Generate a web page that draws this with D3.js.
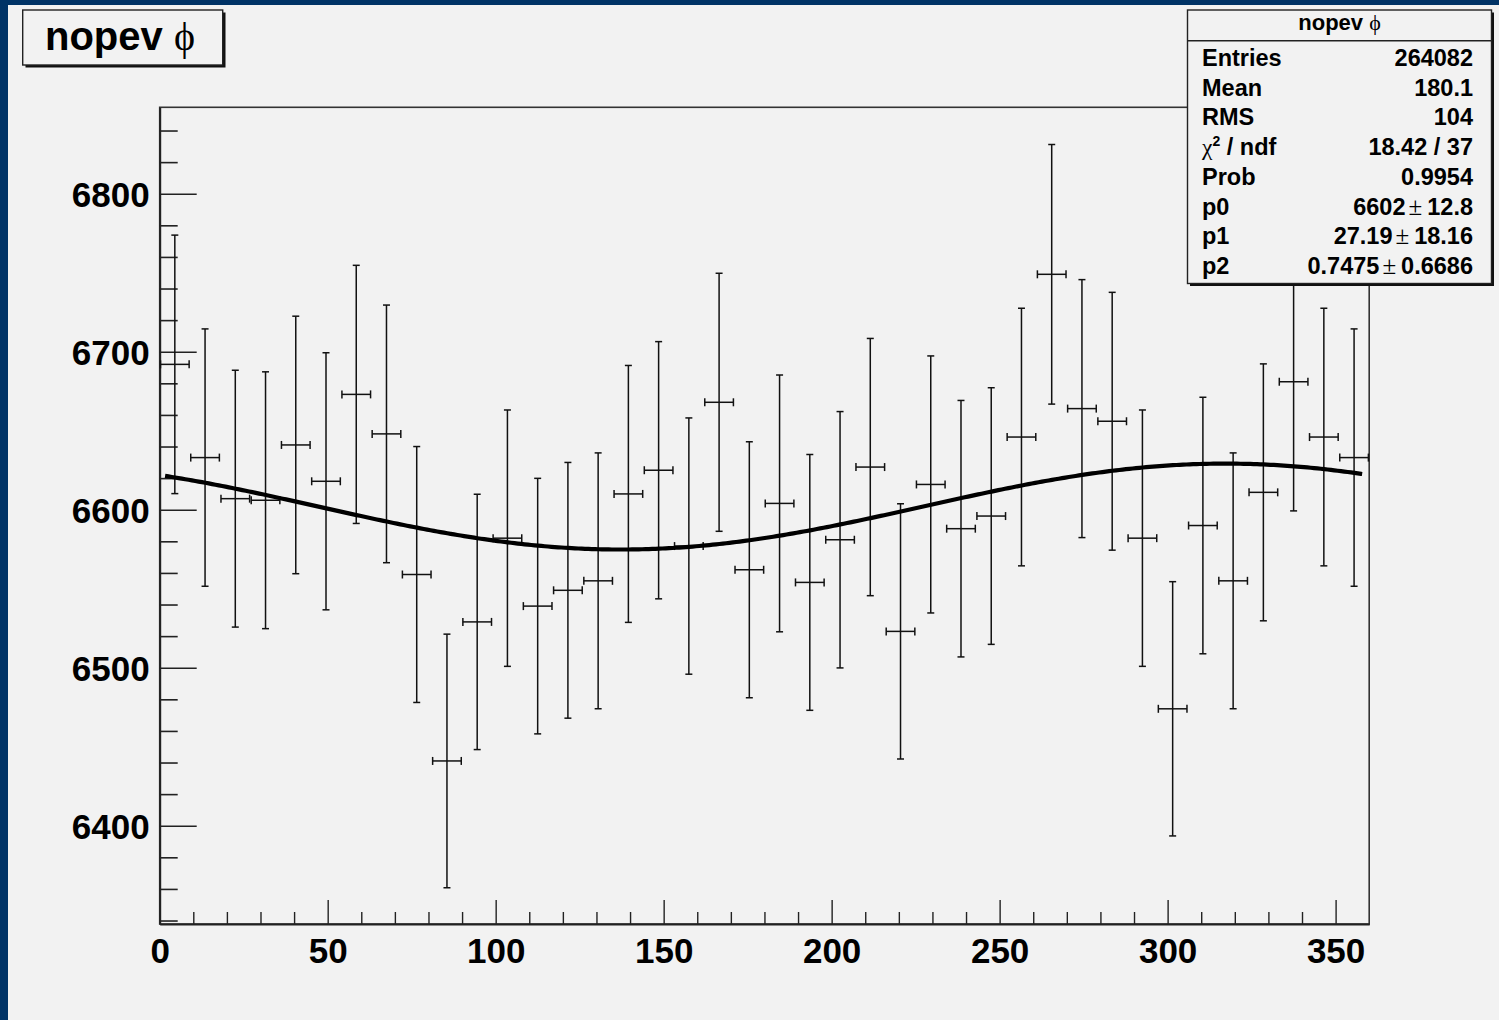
<!DOCTYPE html>
<html>
<head>
<meta charset="utf-8">
<script src="https://cdn.jsdelivr.net/npm/d3@7"></script>
<style>
  html, body { margin: 0; padding: 0; background: #003366; }
  svg { display: block; }
  text { font-family: "Liberation Sans", Arial, Helvetica, sans-serif; fill: #000; }
</style>
</head>
<body>
<svg id="chart" width="1499" height="1020"></svg>
<script>
// Histogram "nopev phi": 40 bins of 9 degrees over 0..360
const binEdgesLow = d3.range(0, 360, 9);
const binWidth = 9;
const counts = [
  6692, 6633, 6607, 6606, 6641, 6618, 6673, 6648, 6559, 6441,
  6529, 6582, 6539, 6549, 6555, 6610, 6625, 6577, 6668, 6562,
  6604, 6554, 6581, 6627, 6523, 6616, 6588, 6596, 6646, 6749,
  6664, 6656, 6582, 6474, 6590, 6555, 6611, 6681, 6646, 6633
];

// Fit: p0 + p1*cos(phi + p2), phi in radians
const fitParams = { p0: 6602, p1: 27.19, p2: 0.7475 };
const fitRange = [1.6, 357.9];

// Statistics box rows
const statLabels = ["Entries", "Mean", "RMS", "chi2", "Prob", "p0", "p1", "p2"];
const statValues = ["264082", "180.1", "104", "18.42 / 37", "0.9954",
                    ["6602", "12.8"], ["27.19", "18.16"], ["0.7475", "0.6686"]];

const xTickValues = [0, 50, 100, 150, 200, 250, 300, 350];
const yTickValues = [6400, 6500, 6600, 6700, 6800];

const svg = d3.select("#chart");
const W = 1499, H = 1020;
const bg = "#f2f2f2";

// canvas
svg.append("rect").attr("x", 8).attr("y", 5).attr("width", W - 8).attr("height", H - 5).attr("fill", bg);

const x = d3.scaleLinear().domain([0, 360]).range([159.7, 1369.2]);
const y = d3.scaleLinear().domain([6337.8, 6854.7]).range([924, 107.3]);

// frame
svg.append("rect")
  .attr("x", x(0)).attr("y", y(6854.7))
  .attr("width", x(360) - x(0)).attr("height", y(6337.8) - y(6854.7))
  .attr("fill", bg).attr("stroke", "#333").attr("stroke-width", 1.6);

const labelStyle = sel => sel.selectAll("text")
  .attr("font-size", 35).attr("font-weight", "bold").attr("fill", "#000");

// Y axis: major ticks pointing inward, with labels
const yMajor = svg.append("g").attr("transform", `translate(${x(0)},0)`)
  .call(d3.axisLeft(y).tickValues(yTickValues).tickSize(-37).tickSizeOuter(0).tickPadding(10).tickFormat(d3.format("d")));
yMajor.select(".domain").attr("stroke", "#222").attr("stroke-width", 2);
yMajor.selectAll(".tick line").attr("stroke", "#222").attr("stroke-width", 1.6);
labelStyle(yMajor);
yMajor.selectAll("text").attr("dy", "0.36em");

const yMinor = svg.append("g").attr("transform", `translate(${x(0)},0)`)
  .call(d3.axisLeft(y).tickValues(d3.range(6340, 6855, 20).filter(v => v % 100 !== 0)).tickSize(-18).tickSizeOuter(0).tickFormat(""));
yMinor.select(".domain").remove();
yMinor.selectAll(".tick line").attr("stroke", "#222").attr("stroke-width", 1.6);

// X axis
const xMajor = svg.append("g").attr("transform", `translate(0,${y(6337.8)})`)
  .call(d3.axisBottom(x).tickValues(xTickValues).tickSize(-24).tickSizeOuter(0).tickPadding(14).tickFormat(d3.format("d")));
xMajor.select(".domain").attr("stroke", "#222").attr("stroke-width", 2.2);
xMajor.selectAll(".tick line").attr("stroke", "#222").attr("stroke-width", 1.4);
labelStyle(xMajor);
xMajor.selectAll("text").attr("dy", "0.71em");

const xMinor = svg.append("g").attr("transform", `translate(0,${y(6337.8)})`)
  .call(d3.axisBottom(x).tickValues(d3.range(10, 360, 10).filter(v => v % 50 !== 0)).tickSize(-12).tickSizeOuter(0).tickFormat(""));
xMinor.select(".domain").remove();
xMinor.selectAll(".tick line").attr("stroke", "#222").attr("stroke-width", 1.4);

// error bars
const bins = counts.map((c, i) => ({ lo: binEdgesLow[i], hi: binEdgesLow[i] + binWidth, c, e: Math.sqrt(c) }));
const eb = svg.append("g").attr("stroke", "#111").attr("stroke-width", 1.5).attr("fill", "none");
bins.forEach(b => {
  const cx = x((b.lo + b.hi) / 2);
  const cy = y(b.c);
  const y0 = y(b.c - b.e), y1 = y(b.c + b.e);
  const xl = x(b.lo) + 0.8, xr = Math.min(x(b.hi), x(360)) - 0.8;
  eb.append("line").attr("x1", cx).attr("x2", cx).attr("y1", y0).attr("y2", y1);
  eb.append("line").attr("x1", cx - 3.5).attr("x2", cx + 3.5).attr("y1", y0).attr("y2", y0);
  eb.append("line").attr("x1", cx - 3.5).attr("x2", cx + 3.5).attr("y1", y1).attr("y2", y1);
  eb.append("line").attr("x1", xl).attr("x2", xr).attr("y1", cy).attr("y2", cy);
  eb.append("line").attr("x1", xl).attr("x2", xl).attr("y1", cy - 4).attr("y2", cy + 4);
  eb.append("line").attr("x1", xr).attr("x2", xr).attr("y1", cy - 4).attr("y2", cy + 4);
});

// fit curve
const fitFn = phi => fitParams.p0 + fitParams.p1 * Math.cos(phi * Math.PI / 180 + fitParams.p2);
const fitPts = d3.range(fitRange[0], fitRange[1], 1).concat([fitRange[1]]);
svg.append("path")
  .attr("d", d3.line().x(d => x(d)).y(d => y(fitFn(d)))(fitPts))
  .attr("fill", "none").attr("stroke", "#000").attr("stroke-width", 4.2)
  .attr("stroke-linejoin", "round");

// title box
svg.append("rect").attr("x", 25.5).attr("y", 12.5).attr("width", 200).attr("height", 55).attr("fill", "#111");
svg.append("rect").attr("x", 22.7).attr("y", 10).attr("width", 200).attr("height", 55)
  .attr("fill", bg).attr("stroke", "#222").attr("stroke-width", 1.4);
const title = svg.append("text").attr("x", 45).attr("y", 50).attr("font-size", 40).attr("font-weight", "bold");
title.append("tspan").text("nopev ");
title.append("tspan").attr("font-family", "'Liberation Serif', 'DejaVu Serif', serif").attr("font-weight", "normal").attr("font-size", 40).text("\u03D5");

// statistics box
const sb = { x: 1187.5, y: 10, w: 304, h: 273.5 };
svg.append("rect").attr("x", sb.x + 2.5).attr("y", sb.y + 2.5).attr("width", sb.w).attr("height", sb.h).attr("fill", "#111");
svg.append("rect").attr("x", sb.x).attr("y", sb.y).attr("width", sb.w).attr("height", sb.h)
  .attr("fill", bg).attr("stroke", "#222").attr("stroke-width", 1.4);
svg.append("line").attr("x1", sb.x).attr("x2", sb.x + sb.w).attr("y1", 40.7).attr("y2", 40.7)
  .attr("stroke", "#222").attr("stroke-width", 1.4);
const head = svg.append("text").attr("x", sb.x + sb.w / 2).attr("y", 30).attr("text-anchor", "middle")
  .attr("font-size", 22).attr("font-weight", "bold");
head.append("tspan").text("nopev ");
head.append("tspan").attr("font-family", "'Liberation Serif', 'DejaVu Serif', serif").attr("font-weight", "normal").text("\u03D5");

statLabels.forEach((lab, i) => {
  const by = 66 + 29.7 * i;
  const t = svg.append("text").attr("x", 1202).attr("y", by).attr("font-size", 23.5).attr("font-weight", "bold");
  if (lab === "chi2") {
    t.append("tspan").attr("font-family", "'Liberation Serif', 'DejaVu Serif', serif").attr("font-weight", "normal").text("\u03C7");
    t.append("tspan").attr("font-size", 14).attr("dy", -9).text("2");
    t.append("tspan").attr("dy", 9).text(" / ndf");
  } else {
    t.text(lab);
  }
  const v = statValues[i];
  const tv = svg.append("text").attr("x", 1473).attr("y", by).attr("text-anchor", "end")
    .attr("font-size", 23.5).attr("font-weight", "bold");
  if (Array.isArray(v)) {
    tv.append("tspan").text(v[0]);
    tv.append("tspan").attr("dx", 3).attr("font-size", 25).attr("font-weight", "normal")
      .attr("font-family", "'Liberation Serif', 'DejaVu Serif', serif").text("\u00B1");
    tv.append("tspan").attr("dx", 5).text(v[1]);
  } else {
    tv.text(v);
  }
});
</script>
</body>
</html>
